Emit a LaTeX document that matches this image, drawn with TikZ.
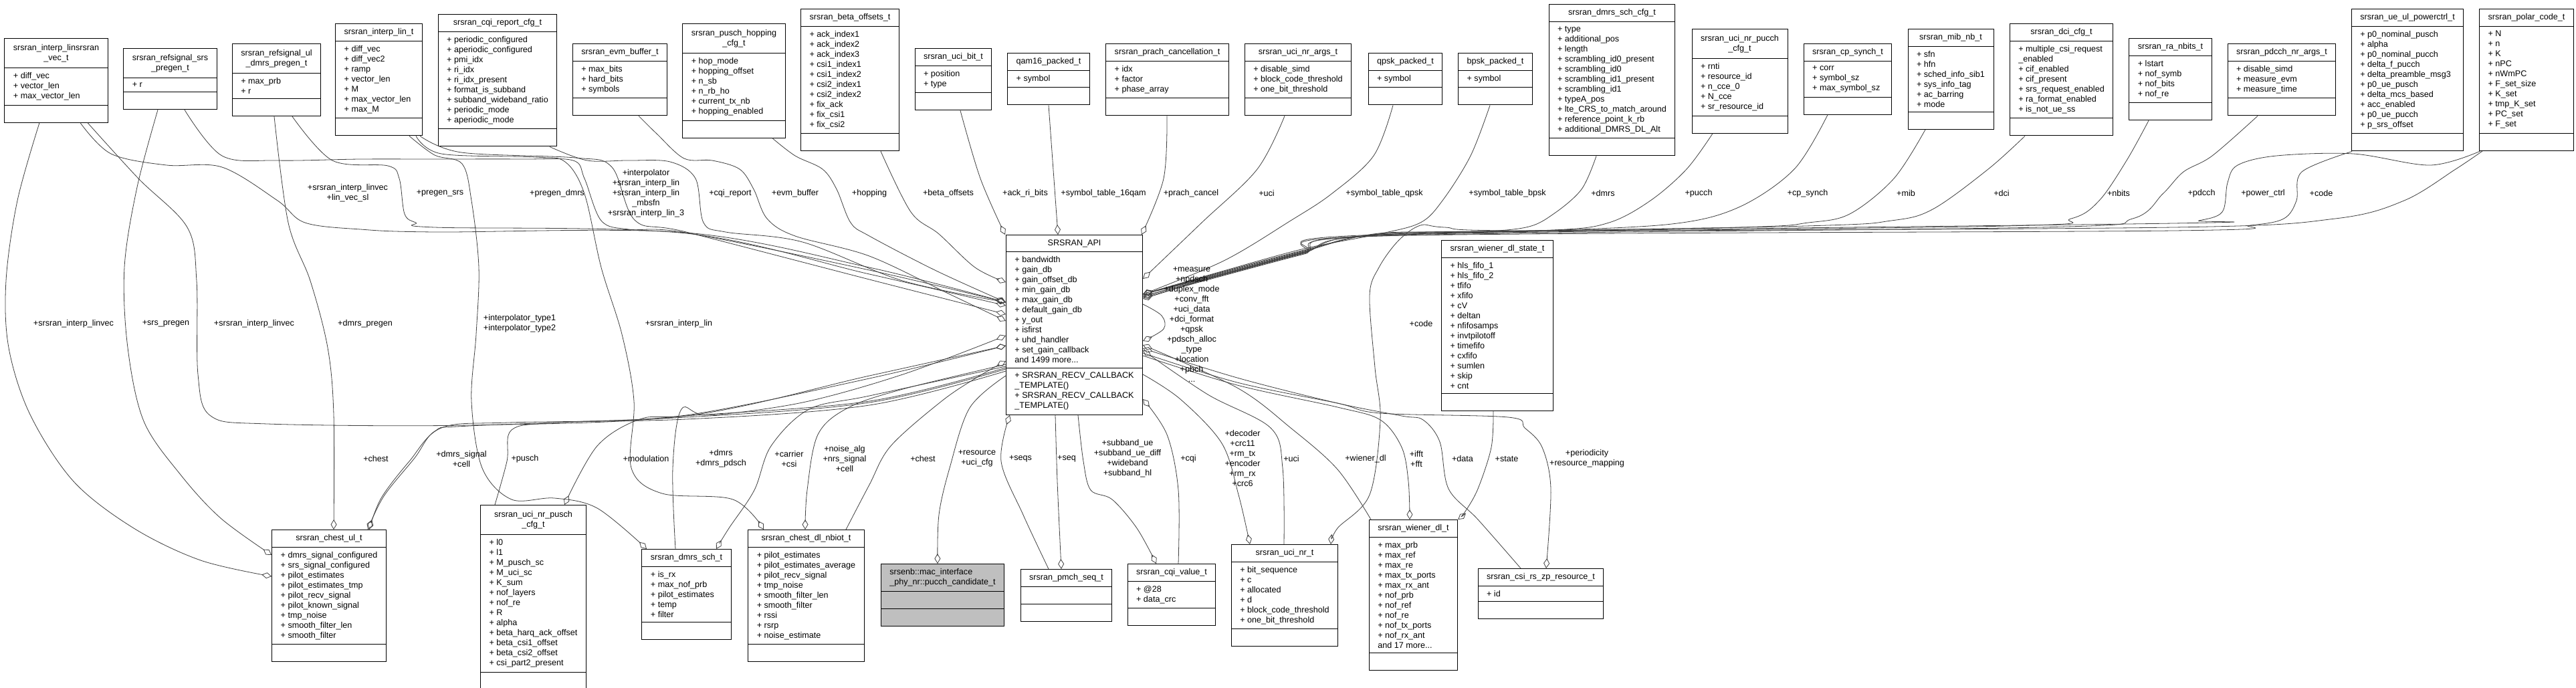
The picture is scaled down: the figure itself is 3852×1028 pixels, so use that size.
\documentclass[tikz,border=0pt]{standalone}
\usepackage{fontspec}
\setmainfont{Liberation Sans}
\usetikzlibrary{arrows.meta,shapes.multipart,calc,positioning}
\definecolor{edgegrey}{HTML}{404040}
\definecolor{candgrey}{HTML}{BFBFBF}
\newcommand{\classfont}{\fontsize{12.6}{15}\selectfont}
\newcommand{\twoline}[2]{\begin{tabular}{@{}c@{}}#1\\#2\end{tabular}}
\tikzset{%
	classbox/.style = {draw, fill=white, line width=1pt, rectangle split, rectangle split parts=3,
		rectangle split part align={center,left,left}, rectangle split empty part height=12pt,
		rectangle split empty part depth=0pt, inner xsep=13pt, inner ysep=6.5pt,
		align=left, font=\classfont, anchor=north}, % struct
	elabel/.style   = {font=\classfont, align=center, inner sep=0pt}, % member name
	agg/.style      = {draw=edgegrey, line width=0.8pt, -{Diamond[open,length=15pt,width=9pt]}},
}
\begin{document}
\catcode`\_=12
\begin{tikzpicture}[x=1pt,y=-1pt]
	\useasboundingbox (0,0) rectangle (3852,1028);
	% top row
	\node [classbox] (interplinvec) at (84,57) {\twoline{srsran_interp_linsrsran}{_vec_t}\nodepart{two}+ diff_vec\\+ vector_len\\+ max_vector_len\nodepart{three}};
	\node [classbox] (srspregen) at (254.5,72) {\twoline{srsran_refsignal_srs}{_pregen_t}\nodepart{two}+ r\nodepart{three}};
	\node [classbox] (dmrspregen) at (413.5,65) {\twoline{srsran_refsignal_ul}{_dmrs_pregen_t}\nodepart{two}+ max_prb\\+ r\nodepart{three}};
	\node [classbox] (interplin) at (566.5,35) {srsran_interp_lin_t\nodepart{two}+ diff_vec\\+ diff_vec2\\+ ramp\\+ vector_len\\+ M\\+ max_vector_len\\+ max_M\nodepart{three}};
	\node [classbox] (cqireport) at (744,21) {srsran_cqi_report_cfg_t\nodepart{two}+ periodic_configured\\+ aperiodic_configured\\+ pmi_idx\\+ ri_idx\\+ ri_idx_present\\+ format_is_subband\\+ subband_wideband_ratio\\+ periodic_mode\\+ aperiodic_mode\nodepart{three}};
	\node [classbox] (evmbuffer) at (927,65) {srsran_evm_buffer_t\nodepart{two}+ max_bits\\+ hard_bits\\+ symbols\nodepart{three}};
	\node [classbox] (puschhopping) at (1097.5,35) {\twoline{srsran_pusch_hopping}{_cfg_t}\nodepart{two}+ hop_mode\\+ hopping_offset\\+ n_sb\\+ n_rb_ho\\+ current_tx_nb\\+ hopping_enabled\nodepart{three}};
	\node [classbox] (betaoffsets) at (1271,13) {srsran_beta_offsets_t\nodepart{two}+ ack_index1\\+ ack_index2\\+ ack_index3\\+ csi1_index1\\+ csi1_index2\\+ csi2_index1\\+ csi2_index2\\+ fix_ack\\+ fix_csi1\\+ fix_csi2\nodepart{three}};
	\node [classbox] (ucibit) at (1425.5,72) {srsran_uci_bit_t\nodepart{two}+ position\\+ type\nodepart{three}};
	\node [classbox] (qam16) at (1568,79) {qam16_packed_t\nodepart{two}+ symbol\nodepart{three}};
	\node [classbox] (prachcancel) at (1745.5,65) {srsran_prach_cancellation_t\nodepart{two}+ idx\\+ factor\\+ phase_array\nodepart{three}};
	\node [classbox] (ucinrargs) at (1941,65) {srsran_uci_nr_args_t\nodepart{two}+ disable_simd\\+ block_code_threshold\\+ one_bit_threshold\nodepart{three}};
	\node [classbox] (qpsk) at (2101.5,79) {qpsk_packed_t\nodepart{two}+ symbol\nodepart{three}};
	\node [classbox] (bpsk) at (2236,79) {bpsk_packed_t\nodepart{two}+ symbol\nodepart{three}};
	\node [classbox] (dmrsschcfg) at (2410.5,6) {srsran_dmrs_sch_cfg_t\nodepart{two}+ type\\+ additional_pos\\+ length\\+ scrambling_id0_present\\+ scrambling_id0\\+ scrambling_id1_present\\+ scrambling_id1\\+ typeA_pos\\+ lte_CRS_to_match_around\\+ reference_point_k_rb\\+ additional_DMRS_DL_Alt\nodepart{three}};
	\node [classbox] (ucinrpucch) at (2601.5,43) {\twoline{srsran_uci_nr_pucch}{_cfg_t}\nodepart{two}+ rnti\\+ resource_id\\+ n_cce_0\\+ N_cce\\+ sr_resource_id\nodepart{three}};
	\node [classbox] (cpsynch) at (2763,65) {srsran_cp_synch_t\nodepart{two}+ corr\\+ symbol_sz\\+ max_symbol_sz\nodepart{three}};
	\node [classbox] (mibnb) at (2917,43) {srsran_mib_nb_t\nodepart{two}+ sfn\\+ hfn\\+ sched_info_sib1\\+ sys_info_tag\\+ ac_barring\\+ mode\nodepart{three}};
	\node [classbox] (dcicfg) at (3082.5,35) {srsran_dci_cfg_t\nodepart{two}+ multiple_csi_request\\_enabled\\+ cif_enabled\\+ cif_present\\+ srs_request_enabled\\+ ra_format_enabled\\+ is_not_ue_ss\nodepart{three}};
	\node [classbox] (ranbits) at (3245.5,57) {srsran_ra_nbits_t\nodepart{two}+ lstart\\+ nof_symb\\+ nof_bits\\+ nof_re\nodepart{three}};
	\node [classbox] (pdcchargs) at (3412,65) {srsran_pdcch_nr_args_t\nodepart{two}+ disable_simd\\+ measure_evm\\+ measure_time\nodepart{three}};
	\node [classbox] (powerctrl) at (3600,13) {srsran_ue_ul_powerctrl_t\nodepart{two}+ p0_nominal_pusch\\+ alpha\\+ p0_nominal_pucch\\+ delta_f_pucch\\+ delta_preamble_msg3\\+ p0_ue_pusch\\+ delta_mcs_based\\+ acc_enabled\\+ p0_ue_pucch\\+ p_srs_offset\nodepart{three}};
	\node [classbox] (polarcode) at (3778,13) {srsran_polar_code_t\nodepart{two}+ N\\+ n\\+ K\\+ nPC\\+ nWmPC\\+ F_set_size\\+ K_set\\+ tmp_K_set\\+ PC_set\\+ F_set\nodepart{three}};
	% middle
	\node [classbox] (api) at (1606.5,351) {SRSRAN_API\nodepart{two}+ bandwidth\\+ gain_db\\+ gain_offset_db\\+ min_gain_db\\+ max_gain_db\\+ default_gain_db\\+ y_out\\+ isfirst\\+ uhd_handler\\+ set_gain_callback\\and 1499 more...\nodepart{three}+ SRSRAN_RECV_CALLBACK\\_TEMPLATE()\\+ SRSRAN_RECV_CALLBACK\\_TEMPLATE()};
	\node [classbox] (wienerstate) at (2239,359) {srsran_wiener_dl_state_t\nodepart{two}+ hls_fifo_1\\+ hls_fifo_2\\+ tfifo\\+ xfifo\\+ cV\\+ deltan\\+ nfifosamps\\+ invtpilotoff\\+ timefifo\\+ cxfifo\\+ sumlen\\+ skip\\+ cnt\nodepart{three}};
	% bottom row
	\node [classbox] (chestul) at (492,792) {srsran_chest_ul_t\nodepart{two}+ dmrs_signal_configured\\+ srs_signal_configured\\+ pilot_estimates\\+ pilot_estimates_tmp\\+ pilot_recv_signal\\+ pilot_known_signal\\+ tmp_noise\\+ smooth_filter_len\\+ smooth_filter\nodepart{three}};
	\node [classbox] (ucinrpusch) at (797.5,755) {\twoline{srsran_uci_nr_pusch}{_cfg_t}\nodepart{two}+ l0\\+ l1\\+ M_pusch_sc\\+ M_uci_sc\\+ K_sum\\+ nof_layers\\+ nof_re\\+ R\\+ alpha\\+ beta_harq_ack_offset\\+ beta_csi1_offset\\+ beta_csi2_offset\\+ csi_part2_present\nodepart{three}};
	\node [classbox] (dmrssch) at (1026.5,821) {srsran_dmrs_sch_t\nodepart{two}+ is_rx\\+ max_nof_prb\\+ pilot_estimates\\+ temp\\+ filter\nodepart{three}};
	\node [classbox] (chestdl) at (1205.5,792) {srsran_chest_dl_nbiot_t\nodepart{two}+ pilot_estimates\\+ pilot_estimates_average\\+ pilot_recv_signal\\+ tmp_noise\\+ smooth_filter_len\\+ smooth_filter\\+ rssi\\+ rsrp\\+ noise_estimate\nodepart{three}};
	\node [classbox, fill=candgrey] (pucchcand) at (1409.5,843) {srsenb::mac_interface\\_phy_nr::pucch_candidate_t\nodepart{two}\nodepart{three}};
	\node [classbox] (pmchseq) at (1594.5,851) {srsran_pmch_seq_t\nodepart{two}\nodepart{three}};
	\node [classbox] (cqivalue) at (1752,843) {srsran_cqi_value_t\nodepart{two}+ @28\\+ data_crc\nodepart{three}};
	\node [classbox] (ucinr) at (1921,814) {srsran_uci_nr_t\nodepart{two}+ bit_sequence\\+ c\\+ allocated\\+ d\\+ block_code_threshold\\+ one_bit_threshold\nodepart{three}};
	\node [classbox] (wienerdl) at (2113.5,777) {srsran_wiener_dl_t\nodepart{two}+ max_prb\\+ max_ref\\+ max_re\\+ max_tx_ports\\+ max_rx_ant\\+ nof_prb\\+ nof_ref\\+ nof_re\\+ nof_tx_ports\\+ nof_rx_ant\\and 17 more...\nodepart{three}};
	\node [classbox] (csirszp) at (2304,850) {srsran_csi_rs_zp_resource_t\nodepart{two}+ id\nodepart{three}};

	% left side
	\draw[agg] plot[smooth,tension=0.55] coordinates {(59,0 |- interplinvec.south) (26,300) (9,420) (13,520) (45,620) (110,720) (200,790) (300,838) (chestul.west |- 0,862)};
	\draw[agg] plot[smooth,tension=0.55] coordinates {(236,0 |- srspregen.south) (205,280) (186,400) (191,520) (215,630) (270,710) (330,775) (chestul.west |- 0,830)};
	\draw[agg] plot[smooth,tension=0.55] coordinates {(410,0 |- dmrspregen.south) (431,333) (464,420) (490,520) (499,620) (499,0 |- chestul.north)};
	\draw[agg] plot[smooth,tension=0.55] coordinates {(131,0 |- interplinvec.south) (207,267) (280,340) (294,420) (296,560) (315,622) (400,634) (700,636) (1026,622) (1300,562) (api.west |- 0,517)};
	\draw[agg] plot[smooth,tension=0.55] coordinates {(120,0 |- interplinvec.south) (166,230) (249,247) (332,250) (415,300) (456,333) (539,343) (650,347) (1026,348) (1300,400) (api.west |- 0,452)};
	\draw[agg] plot[smooth,tension=0.55] coordinates {(276,0 |- srspregen.south) (332,233) (415,240) (539,238) (650,238) (780,238) (857,240) (874,267) (899,330) (940,343) (1026,348) (1300,404) (api.west |- 0,452)};
	\draw[agg] plot[smooth,tension=0.55] coordinates {(437,0 |- dmrspregen.south) (497,240) (580,248) (597,267) (605,320) (622,333) (650,340) (1026,349) (1300,410) (api.west |- 0,457)};
	\draw[agg] plot[smooth,tension=0.55] coordinates {(612,0 |- interplin.south) (650,232) (691,245) (705,300) (716,400) (712,500) (705,600) (721,700) (765,747) (829,745) (893,760) (967,0 |- dmrssch.north)};
	\draw[agg] plot[smooth,tension=0.55] coordinates {(622,0 |- interplin.south) (660,230) (800,235) (845,242) (874,290) (899,400) (930,500) (948,600) (944,700) (990,738) (1096,747) (1142,0 |- chestdl.north)};
	\draw[agg] plot[smooth,tension=0.55] coordinates {(628,0 |- interplin.south) (690,228) (860,236) (915,250) (950,330) (1026,347) (1300,418) (api.west |- 0,470)};
	\draw[agg] plot[smooth,tension=0.55] coordinates {(822,0 |- cqireport.south) (878,240) (940,240) (1002,242) (1040,267) (1052,333) (1085,347) (1200,362) (1350,420) (api.west |- 0,452)};
	\draw[agg] plot[smooth,tension=0.55] coordinates {(955,0 |- evmbuffer.south) (982,200) (1023,237) (1065,240) (1106,253) (1127,283) (1147,327) (1189,353) (1300,383) (1420,440) (api.west |- 0,480)};
	\draw[agg] plot[smooth,tension=0.55] coordinates {(1155,0 |- puschhopping.south) (1189,233) (1230,253) (1251,283) (1272,333) (1300,353) (1400,405) (api.west |- 0,452)};
	\draw[agg] plot[smooth,tension=0.55] coordinates {(1317,0 |- betaoffsets.south) (1362,317) (1404,350) (1458,400) (api.west |- 0,422)};
	\draw[agg] plot[smooth,tension=0.55] coordinates {(1436,0 |- ucibit.south) (1466,267) (1503,0 |- api.north)};
	\draw[agg] (1568,0 |- qam16.south) -- (1582,0 |- api.north);
	\draw[agg] plot[smooth,tension=0.55] coordinates {(1745,0 |- prachcancel.south) (1740,267) (1707,0 |- api.north)};
	\draw[agg] plot[smooth,tension=0.55] coordinates {(1921,0 |- ucinrargs.south) (1880,253) (1797,333) (api.east |- 0,417)};
	% right side
	\draw[agg] plot[smooth,tension=0.55] coordinates {(2083,0 |- qpsk.south) (2054,233) (1991,290) (1930,330) (1830,390) (api.east |- 0,440)};
	\draw[agg] plot[smooth,tension=0.55] coordinates {(2228,0 |- bpsk.south) (2199,233) (2157,300) (2124,333) (2062,350) (1950,372) (1830,405) (api.east |- 0,440)};
	\draw[agg] plot[smooth,tension=0.55] coordinates {(2387,0 |- dmrsschcfg.south) (2365,283) (2323,320) (2282,340) (2199,347) (2062,349) (1950,374) (1830,406) (api.east |- 0,440)};
	\draw[agg] plot[smooth,tension=0.55] coordinates {(2561,0 |- ucinrpucch.south) (2522,253) (2468,300) (2406,333) (2323,344) (2062,350) (1950,375) (1830,407) (api.east |- 0,440)};
	\draw[agg] plot[smooth,tension=0.55] coordinates {(2733,0 |- cpsynch.south) (2683,253) (2600,310) (2500,335) (2300,345) (2062,350) (1950,376) (1830,408) (api.east |- 0,440)};
	\draw[agg] plot[smooth,tension=0.55] coordinates {(2879,0 |- mibnb.south) (2832,267) (2766,320) (2704,333) (2600,340) (2062,351) (1950,377) (1830,409) (api.east |- 0,440)};
	\draw[agg] plot[smooth,tension=0.55] coordinates {(3028,0 |- dcicfg.south) (2973,253) (2890,313) (2828,330) (2700,338) (2062,352) (1950,378) (1830,410) (api.east |- 0,440)};
	\draw[agg] plot[smooth,tension=0.55] coordinates {(3213,0 |- ranbits.south) (3180,240) (3139,300) (3097,327) (3000,338) (2062,352) (1950,378) (1830,410) (api.east |- 0,443)};
	\draw[agg] plot[smooth,tension=0.55] coordinates {(3376,0 |- pdcchargs.south) (3308,233) (3265,257) (3234,290) (3189,327) (3050,340) (2062,353) (1950,379) (1830,411) (api.east |- 0,443)};
	\draw[agg] plot[smooth,tension=0.55] coordinates {(3517,0 |- powerctrl.south) (3442,257) (3434,300) (3415,327) (3365,337) (3250,345) (2062,353) (1950,380) (1830,412) (api.east |- 0,445)};
	\draw[agg] plot[smooth,tension=0.55] coordinates {(3709,0 |- polarcode.south) (3634,247) (3519,230) (3404,233) (3346,247) (3331,273) (3323,317) (3288,330) (3250,334) (2062,351) (1950,377) (1830,410) (api.east |- 0,447)};
	\draw[agg] plot[smooth,tension=0.55] coordinates {(3712,0 |- polarcode.south) (3672,253) (3595,300) (3492,327) (3250,340) (2300,345) (2160,340) (2124,337) (2091,360) (2062,400) (2048,442) (2056,550) (2064,628) (2048,740) (2000,790) (1990,0 |- ucinr.north)};
	\draw[agg] plot[smooth,tension=0.55] coordinates {(api.east |- 0,455) (1737,472) (1740,492) (api.east |- 0,510)};
	% lower right
	\draw[agg] plot[smooth,tension=0.55] coordinates {(2274,0 |- csirszp.north) (2210,777) (2166,731) (2153,661) (2128,628) (2096,622) (2000,603) (1850,565) (api.east |- 0,521)};
	\draw[agg] plot[smooth,tension=0.55] coordinates {(api.east |- 0,528) (1850,572) (2000,603) (2064,618) (2255,624) (2280,640) (2306,669) (2319,731) (2312,0 |- csirszp.north)};
	\draw[agg] plot[smooth,tension=0.55] coordinates {(api.east |- 0,532) (1850,576) (2000,609) (2064,628) (2096,669) (2106,720) (2108,0 |- wienerdl.north)};
	\draw[agg] plot[smooth,tension=0.55] coordinates {(2050,0 |- wienerdl.north) (2000,702) (1930,640) (1850,580) (api.east |- 0,516)};
	\draw[agg] plot[smooth,tension=0.55] coordinates {(2233,0 |- wienerstate.south) (2230,669) (2210,731) (2191,765) (wienerdl.north east)};
	\draw[agg] plot[smooth,tension=0.55] coordinates {(1920,0 |- ucinr.north) (1918,700) (1900,640) (1806,590) (api.east |- 0,524)};
	\draw[agg] plot[smooth,tension=0.55] coordinates {(api.east |- 0,560) (1765,597) (1827,663) (1852,740) (1869,0 |- ucinr.north)};
	\draw[agg] plot[smooth,tension=0.55] coordinates {(1762,0 |- cqivalue.north) (1762,733) (1745,650) (api.east |- 0,597)};
	% below the API
	\draw[agg] plot[smooth,tension=0.55] coordinates {(1612,0 |- api.south) (1620,690) (1631,733) (1663,747) (1700,790) (1729,0 |- cqivalue.north)};
	\draw[agg] plot[smooth,tension=0.55] coordinates {(1578,0 |- api.south) (1581,720) (1587,0 |- pmchseq.north)};
	\draw[agg] plot[smooth,tension=0.55] coordinates {(1568,0 |- pmchseq.north) (1530,770) (1497,690) (1510,0 |- api.south)};
	\draw[agg] plot[smooth,tension=0.55] coordinates {(api.west |- 0,562) (1450,610) (1420,700) (1404,770) (1402,0 |- pucchcand.north)};
	\draw[agg] plot[smooth,tension=0.55] coordinates {(1265,0 |- chestdl.north) (1300,725) (1332,667) (1408,600) (1460,565) (api.west |- 0,540)};
	\draw[agg] plot[smooth,tension=0.55] coordinates {(api.west |- 0,545) (1350,582) (1268,610) (1223,650) (1207,733) (1204,0 |- chestdl.north)};
	\draw[agg] plot[smooth,tension=0.55] coordinates {(api.west |- 0,548) (1300,592) (1210,612) (1153,667) (1128,733) (1090,790) (1071,0 |- dmrssch.north)};
	\draw[agg] plot[smooth,tension=0.55] coordinates {(1010,0 |- dmrssch.north) (1006,700) (1019,612) (1060,621) (1200,602) (1350,560) (api.west |- 0,502)};
	\draw[agg] plot[smooth,tension=0.55] coordinates {(api.west |- 0,550) (1300,600) (1026,622) (957,627) (893,667) (844,0 |- ucinrpusch.north)};
	\draw[agg] plot[smooth,tension=0.55] coordinates {(740,0 |- ucinrpusch.north) (758,690) (765,643) (829,632) (1026,621) (1300,566) (api.west |- 0,517)};
	\draw[agg] plot[smooth,tension=0.55] coordinates {(api.west |- 0,552) (1300,602) (1026,624) (702,637) (650,645) (620,685) (574,742) (550,0 |- chestul.north)};
	\draw[agg] plot[smooth,tension=0.55] coordinates {(api.west |- 0,555) (1300,606) (1026,627) (760,632) (660,640) (612,690) (570,745) (552,0 |- chestul.north)};

	% member names
	\node [elabel] at (110,484) {+srsran_interp_linvec};
	\node [elabel] at (248,484) {+srs_pregen};
	\node [elabel] at (380,484) {+srsran_interp_linvec};
	\node [elabel] at (546,484) {+dmrs_pregen};
	\node [elabel] at (777,484) {+interpolator_type1\\+interpolator_type2};
	\node [elabel] at (1015,484) {+srsran_interp_lin};
	\node [elabel] at (520,289) {+srsran_interp_linvec\\+lin_vec_sl};
	\node [elabel] at (658,289) {+pregen_srs};
	\node [elabel] at (833,289) {+pregen_dmrs};
	\node [elabel] at (966,289) {+interpolator\\+srsran_interp_lin\\+srsran_interp_lin\\_mbsfn\\+srsran_interp_lin_3};
	\node [elabel] at (1092,289) {+cqi_report};
	\node [elabel] at (1189,289) {+evm_buffer};
	\node [elabel] at (1300,289) {+hopping};
	\node [elabel] at (1418,289) {+beta_offsets};
	\node [elabel] at (1533,289) {+ack_ri_bits};
	\node [elabel] at (1650,289) {+symbol_table_16qam};
	\node [elabel] at (1781,289) {+prach_cancel};
	\node [elabel] at (1894,289) {+uci};
	\node [elabel] at (2070,289) {+symbol_table_qpsk};
	\node [elabel] at (2254,289) {+symbol_table_bpsk};
	\node [elabel] at (2397,289) {+dmrs};
	\node [elabel] at (2540,289) {+pucch};
	\node [elabel] at (2703,289) {+cp_synch};
	\node [elabel] at (2850,289) {+mib};
	\node [elabel] at (2993,289) {+dci};
	\node [elabel] at (3168,289) {+nbits};
	\node [elabel] at (3292,289) {+pdcch};
	\node [elabel] at (3384,289) {+power_ctrl};
	\node [elabel] at (3471,289) {+code};
	\node [elabel] at (2125,484) {+code};
	\node [elabel] at (1782,485) {+measure\\+npdsch\\+duplex_mode\\+conv_fft\\+uci_data\\+dci_format\\+qpsk\\+pdsch_alloc\\_type\\+location\\+pbch\\...};
	\node [elabel] at (562,686) {+chest};
	\node [elabel] at (690,686) {+dmrs_signal\\+cell};
	\node [elabel] at (785,686) {+pusch};
	\node [elabel] at (966,686) {+modulation};
	\node [elabel] at (1078,686) {+dmrs\\+dmrs_pdsch};
	\node [elabel] at (1180,686) {+carrier\\+csi};
	\node [elabel] at (1263,686) {+noise_alg\\+nrs_signal\\+cell};
	\node [elabel] at (1380,686) {+chest};
	\node [elabel] at (1461,686) {+resource\\+uci_cfg};
	\node [elabel] at (1526,686) {+seqs};
	\node [elabel] at (1595,686) {+seq};
	\node [elabel] at (1686,686) {+subband_ue\\+subband_ue_diff\\+wideband\\+subband_hl};
	\node [elabel] at (1777,686) {+cqi};
	\node [elabel] at (1858,685) {+decoder\\+crc11\\+rm_tx\\+encoder\\+rm_rx\\+crc6};
	\node [elabel] at (1931,686) {+uci};
	\node [elabel] at (2042,686) {+wiener_dl};
	\node [elabel] at (2118,686) {+ifft\\+fft};
	\node [elabel] at (2187,686) {+data};
	\node [elabel] at (2253,686) {+state};
	\node [elabel] at (2373,686) {+periodicity\\+resource_mapping};
\end{tikzpicture}
\end{document}
